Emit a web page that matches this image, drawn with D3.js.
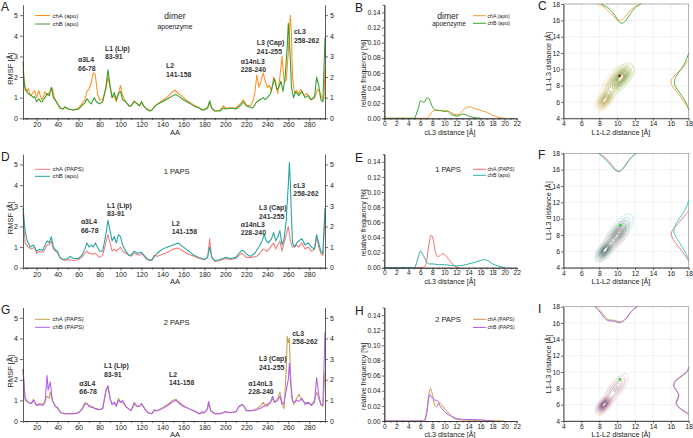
<!DOCTYPE html>
<html>
<head>
<meta charset="utf-8">
<script src="https://cdn.jsdelivr.net/npm/d3@7"></script>
<style>
body { margin: 0; background: #fff; }
svg { font-family: "Liberation Sans", Arial, sans-serif; }
</style>
</head>
<body>
<svg id="fig" width="693" height="438"></svg>
<script>
/* RMSF per residue, [residue, RMSF in A] */
var aChA = [[7,2.3],[9,1.5],[11,1.3],[12,1.45],[14,1.1],[16,1.2],[18,1.35],[20,1.0],[22,1.35],[24,1.0],[25,0.9],[27,1.1],[28,1.3],[30,1.1],[31,1.2],[33,1.3],[35,1.45],[37,1.0],[38,0.9],[40,0.7],[43,0.5],[45,0.45],[47,0.55],[50,0.45],[55,0.4],[60,0.5],[63,0.7],[66,0.9],[68,1.3],[70,1.4],[72,1.7],[74,2.2],[76,2.1],[78,1.2],[80,0.9],[83,0.9],[86,1.4],[88,2.0],[90,1.5],[92,1.0],[94,1.1],[96,0.8],[98,1.2],[100,1.6],[102,1.1],[105,0.8],[108,0.6],[110,0.6],[113,0.85],[116,0.7],[118,0.6],[120,0.8],[122,0.6],[125,0.45],[128,0.38],[130,0.4],[133,0.6],[135,0.7],[140,0.85],[145,1.05],[148,1.2],[150,1.3],[152,1.38],[155,1.2],[158,1.1],[160,1.0],[165,0.8],[170,0.65],[175,0.5],[178,0.42],[180,0.45],[183,0.5],[185,0.75],[187,0.5],[190,0.35],[195,0.4],[198,0.6],[200,0.5],[205,0.5],[210,0.5],[215,0.75],[217,0.9],[220,0.65],[224,0.6],[226,0.8],[228,1.2],[230,2.1],[232,1.5],[234,1.8],[236,2.2],[238,1.8],[240,1.5],[242,1.6],[244,1.3],[246,2.0],[248,1.7],[250,1.2],[252,2.0],[254,3.0],[256,1.8],[258,1.8],[260,3.2],[261,4.2],[262,5.0],[263,4.0],[264,2.0],[266,1.2],[268,1.35],[270,1.2],[272,1.4],[275,1.1],[278,1.2],[281,0.9],[284,1.0],[286,1.1],[288,1.4],[290,1.3],[292,1.0],[294,0.9],[295,2.4]];
var aChB = [[7,2.75],[8,1.8],[9,1.4],[11,1.25],[12,1.2],[15,1.1],[17,1.0],[18,1.05],[20,0.8],[22,0.95],[24,0.8],[25,0.8],[27,0.95],[28,1.0],[30,1.2],[32,1.1],[34,1.5],[36,1.0],[38,0.85],[40,0.7],[42,0.5],[45,0.45],[47,0.55],[50,0.45],[55,0.4],[60,0.45],[63,0.6],[66,0.75],[68,0.95],[70,0.8],[72,0.7],[75,1.0],[77,0.8],[80,0.7],[83,0.8],[86,1.5],[88,2.35],[90,1.6],[92,1.0],[94,1.25],[96,0.9],[98,1.2],[100,1.3],[102,0.9],[105,0.8],[108,0.6],[110,0.6],[113,0.8],[116,0.7],[118,0.6],[120,0.8],[122,0.6],[125,0.45],[128,0.35],[130,0.4],[133,0.6],[136,0.7],[140,0.8],[145,0.95],[150,1.1],[153,1.15],[156,1.05],[160,0.9],[165,0.75],[170,0.6],[175,0.5],[178,0.4],[180,0.4],[183,0.5],[185,0.85],[187,0.5],[190,0.35],[195,0.35],[198,0.5],[200,0.45],[205,0.5],[210,0.45],[215,0.65],[217,0.8],[220,0.6],[223,0.55],[226,0.5],[230,0.8],[233,0.9],[236,1.0],[238,0.9],[240,1.0],[243,1.2],[245,1.6],[247,1.9],[249,1.4],[251,1.5],[253,1.8],[255,1.3],[257,2.0],[259,3.5],[260,4.6],[261,3.8],[262,2.8],[263,1.5],[265,1.0],[267,1.3],[270,1.1],[273,1.3],[276,1.0],[279,1.1],[282,0.9],[285,1.0],[287,2.0],[289,1.6],[291,0.9],[293,0.8],[295,3.9]];
var dChA = [[7,2.6],[9,1.2],[12,1.0],[15,0.9],[18,1.0],[20,0.7],[23,0.8],[26,0.75],[28,0.9],[30,1.1],[32,1.1],[34,1.3],[36,0.9],[38,0.8],[40,0.7],[43,0.45],[47,0.35],[50,0.4],[55,0.35],[60,0.4],[63,0.5],[66,0.7],[68,0.8],[70,0.7],[73,0.65],[76,0.7],[78,0.6],[80,0.5],[83,0.6],[86,1.2],[88,1.6],[90,1.2],[92,0.8],[94,0.9],[96,0.8],[98,0.9],[100,1.0],[102,0.8],[105,0.7],[110,0.55],[113,0.7],[118,0.6],[120,0.7],[125,0.4],[130,0.35],[132,0.6],[135,0.55],[140,0.65],[145,0.75],[150,0.9],[155,0.95],[160,0.8],[165,0.65],[170,0.55],[175,0.45],[180,0.4],[183,0.5],[185,1.4],[187,0.5],[190,0.3],[195,0.35],[200,0.45],[205,0.4],[210,0.45],[213,0.6],[216,0.7],[218,0.6],[220,0.5],[225,0.5],[230,0.55],[233,0.7],[236,0.9],[240,0.8],[243,1.0],[246,1.2],[248,0.9],[250,1.1],[252,1.3],[254,0.8],[256,1.2],[258,1.6],[260,2.0],[262,1.3],[264,1.0],[266,1.0],[268,1.1],[270,1.0],[273,1.2],[276,0.9],[279,1.0],[282,0.8],[285,0.9],[287,1.5],[289,1.0],[291,0.7],[293,0.6],[295,2.6]];
var dChB = [[7,2.9],[9,1.8],[11,1.3],[14,1.0],[17,1.1],[20,0.8],[23,0.9],[26,0.85],[28,1.1],[30,1.3],[32,1.2],[34,1.5],[36,1.0],[38,0.85],[40,0.8],[42,0.5],[45,0.4],[50,0.45],[52,0.55],[55,0.45],[60,0.45],[63,0.6],[66,0.9],[68,1.2],[70,1.0],[72,1.1],[74,1.0],[76,1.2],[78,1.0],[80,0.8],[83,0.8],[86,1.6],[88,2.3],[90,1.8],[92,1.3],[94,1.5],[96,1.2],[98,1.6],[100,1.5],[102,1.1],[105,0.8],[108,0.6],[110,0.6],[113,0.8],[116,0.7],[120,0.75],[125,0.45],[128,0.35],[130,0.4],[135,0.7],[140,0.9],[145,1.0],[150,1.1],[155,1.2],[160,1.0],[165,0.8],[170,0.6],[175,0.5],[180,0.4],[183,0.5],[185,1.0],[187,0.5],[190,0.35],[195,0.4],[200,0.5],[205,0.45],[210,0.5],[213,0.7],[216,0.85],[218,0.8],[220,0.65],[224,0.55],[228,0.7],[232,1.0],[235,1.3],[237,1.6],[239,1.3],[241,1.2],[244,1.4],[246,1.7],[248,1.3],[250,1.5],[252,1.8],[254,1.1],[256,1.4],[258,2.3],[260,4.0],[261,5.1],[262,4.0],[263,2.5],[264,1.2],[266,1.0],[268,1.2],[270,1.3],[273,1.4],[276,1.1],[279,1.2],[282,1.0],[285,0.9],[287,1.6],[289,1.2],[291,0.8],[293,0.7],[295,2.9]];
var gChA = [[7,2.5],[9,1.0],[12,0.9],[15,0.85],[17,1.05],[20,0.75],[23,0.85],[26,0.8],[28,1.0],[30,1.2],[32,1.1],[33,1.4],[35,1.0],[38,0.7],[40,0.6],[43,0.4],[47,0.35],[50,0.35],[55,0.35],[60,0.4],[63,0.55],[66,0.9],[68,0.85],[70,0.75],[73,0.7],[76,0.6],[80,0.55],[83,0.6],[86,1.5],[88,1.7],[90,1.1],[92,0.8],[94,0.9],[96,0.8],[98,1.1],[100,0.9],[102,0.9],[105,0.7],[110,0.5],[113,0.8],[116,0.7],[120,0.8],[123,0.6],[126,0.4],[130,0.35],[132,0.5],[135,0.5],[140,0.65],[145,0.8],[150,1.0],[153,1.05],[156,0.9],[160,0.75],[165,0.6],[170,0.5],[175,0.35],[180,0.4],[183,0.6],[184,0.9],[186,0.5],[190,0.35],[195,0.35],[200,0.45],[205,0.4],[210,0.45],[213,0.7],[216,0.8],[218,0.7],[220,0.5],[225,0.5],[230,0.6],[233,0.7],[236,0.9],[238,0.8],[240,0.7],[243,0.9],[245,1.1],[247,0.9],[250,1.1],[252,1.4],[254,0.9],[256,0.6],[258,2.5],[259,4.1],[260,3.8],[261,4.0],[262,2.5],[263,1.2],[265,0.8],[268,1.1],[270,1.3],[273,1.0],[276,0.9],[279,0.9],[282,0.8],[285,1.0],[287,1.4],[289,1.1],[291,0.8],[293,0.7],[295,2.4]];
var gChB = [[7,2.5],[9,1.1],[12,0.9],[15,0.85],[17,1.0],[20,0.75],[23,0.8],[26,0.75],[28,0.9],[30,2.2],[31,1.5],[33,1.9],[35,1.0],[38,0.7],[40,0.65],[43,0.4],[47,0.35],[50,0.35],[55,0.35],[60,0.4],[63,0.55],[66,0.8],[68,0.85],[70,0.7],[73,0.65],[76,0.6],[80,0.55],[83,0.6],[86,1.4],[88,1.7],[90,1.1],[92,0.8],[94,0.9],[96,0.7],[98,1.0],[100,0.9],[102,1.0],[105,0.7],[110,0.5],[113,0.9],[116,0.7],[118,0.7],[120,0.85],[123,0.6],[126,0.4],[130,0.35],[132,0.55],[135,0.5],[140,0.6],[145,0.75],[150,0.95],[153,1.0],[156,0.85],[160,0.7],[165,0.6],[170,0.5],[175,0.35],[178,0.45],[180,0.4],[183,0.6],[184,0.95],[186,0.5],[190,0.35],[195,0.35],[200,0.45],[205,0.4],[210,0.45],[213,0.7],[216,0.8],[218,0.7],[220,0.5],[225,0.5],[230,0.55],[233,0.6],[236,0.7],[240,0.8],[243,0.9],[245,1.2],[247,0.9],[250,1.0],[252,1.2],[254,0.8],[256,0.9],[258,1.5],[260,2.0],[261,2.8],[262,2.0],[264,1.0],[266,0.9],[268,1.0],[270,0.95],[273,1.1],[276,0.8],[279,0.9],[282,0.75],[285,0.9],[287,2.1],[289,1.3],[291,0.8],[293,0.8],[295,4.3]];

/* cL3 distance distributions, [distance A, relative frequency] */
var bChA = [[0,0],[7,0],[7.5,0.003],[8,0.009],[8.5,0.0105],[9,0.0102],[10,0.01],[10.5,0.0095],[11,0.008],[11.5,0.006],[12,0.0045],[12.5,0.006],[13,0.01],[13.5,0.0135],[14,0.0152],[14.5,0.0145],[15,0.013],[16,0.0105],[17,0.008],[18,0.004],[19,0.0012],[20,0]];
var bChB = [[0,0],[5,0],[5.3,0.005],[5.7,0.015],[6,0.023],[6.3,0.022],[6.6,0.021],[7,0.026],[7.3,0.027],[7.6,0.023],[8,0.015],[8.5,0.011],[9,0.0105],[9.5,0.01],[10,0.009],[10.5,0.0095],[11,0.006],[11.5,0.004],[12,0.003],[12.5,0.004],[13,0.0055],[13.5,0.005],[14,0.003],[15,0.001],[16,0]];
var eChA = [[0,0],[6.5,0],[7,0.008],[7.4,0.03],[7.8,0.043],[8.1,0.038],[8.4,0.025],[8.8,0.015],[9.2,0.0155],[9.7,0.0185],[10.2,0.016],[10.7,0.011],[11.2,0.006],[11.7,0.002],[12.5,0]];
var eChB = [[0,0],[5,0],[5.5,0.01],[6,0.022],[6.5,0.016],[7,0.008],[7.5,0.005],[8,0.005],[9,0.004],[10,0.004],[11,0.003],[12,0.0025],[13,0.003],[14,0.005],[15,0.007],[16,0.0095],[16.5,0.0105],[17,0.01],[18,0.005],[19,0.002],[20,0]];
var hChA = [[0,0],[6.5,0],[7,0.01],[7.4,0.035],[7.7,0.043],[8,0.035],[8.4,0.02],[8.7,0.019],[9.1,0.024],[9.5,0.022],[10,0.016],[10.5,0.012],[11,0.008],[11.5,0.004],[12,0.002],[14,0.001],[16,0.001],[18,0.0005],[20,0]];
var hChB = [[0,0],[6.7,0],[7,0.008],[7.4,0.03],[7.6,0.035],[7.9,0.031],[8.3,0.028],[8.8,0.027],[9.2,0.021],[9.7,0.015],[10.2,0.011],[10.7,0.008],[11.2,0.006],[11.8,0.004],[12.5,0.0025],[14,0.002],[16,0.0015],[17,0.0005],[18,0]];

/* 2D L1-L2 / L1-L3 density: blobs [cx, cy, sx, sy, rho, weight] */
var cBlobA = [[8.6,6.2,0.45,0.55,0.5,0.3],[9.6,8.3,0.65,0.9,0.6,0.45],[10.7,9.3,0.6,0.6,0.4,0.25]];
var cBlobB = [[8.8,6.6,0.45,0.7,0.6,0.25],[10.4,8.9,0.6,0.8,0.6,0.75]];
var fBlobA = [[8.7,6.2,0.45,0.6,0.6,0.4],[10.0,7.9,0.6,0.8,0.65,0.6]];
var fBlobB = [[8.6,6.1,0.45,0.6,0.6,0.35],[10.2,8.4,0.7,0.95,0.7,0.65]];
var iBlobA = [[8.6,6.0,0.4,0.55,0.6,0.5],[9.9,8.0,0.7,0.95,0.75,0.5]];
var iBlobB = [[8.5,6.0,0.4,0.5,0.6,0.55],[9.8,7.9,0.6,0.85,0.75,0.45]];
/* marginals: top [L1-L2, curve y], right [L1-L3, curve x] */
var cTopA = [[7.8,18],[8.5,17.7],[9,17.2],[9.5,16.6],[10,16.0],[10.4,15.95],[10.8,16.3],[11.3,17.0],[11.8,17.6],[12.5,18]];
var cTopB = [[8.2,18],[9,17.6],[9.5,17.0],[10,16.2],[10.4,15.45],[11,15.9],[11.5,16.9],[12,17.6],[12.7,18]];
var cRightA = [[5.3,18],[5.8,17.6],[6.5,17.2],[7.3,16.6],[8,16.1],[8.6,15.95],[9.2,16.3],[9.8,17.0],[10.5,17.6],[11.2,18]];
var cRightB = [[5.0,18],[6,17.7],[7,17.1],[7.8,16.5],[8.5,16.35],[9.3,16.6],[10,17.2],[11,17.7],[12,18]];
var fTopA = [[8,18],[8.8,17.4],[9.4,16.6],[9.9,15.9],[10.2,15.75],[10.6,16.0],[11.1,16.8],[11.6,17.6],[12.2,18]];
var fTopB = [[7.9,18],[8.7,17.3],[9.3,16.5],[9.8,15.9],[10.1,15.7],[10.5,15.9],[11,16.7],[11.5,17.5],[12.1,18]];
var fRightA = [[4.8,18],[5.5,17.6],[6.5,16.9],[7.5,16.2],[8.1,16.0],[8.7,16.2],[9.5,16.9],[10.3,17.5],[11,18]];
var fRightB = [[5,18],[6,17.6],[7,17.0],[8,16.4],[8.7,16.3],[9.5,16.6],[10.5,17.3],[11.5,17.8],[12.3,18]];
var iTopA = [[7.6,18],[8.2,17.5],[8.7,16.6],[9.2,16.3],[9.7,16.4],[10.2,16.1],[10.7,16.2],[11.2,16.8],[11.7,17.6],[12.3,18]];
var iTopB = [[7.5,18],[8.1,17.4],[8.6,16.5],[9.1,16.2],[9.6,16.3],[10.1,16.0],[10.6,16.1],[11.1,16.7],[11.6,17.5],[12.2,18]];
var iRightA = [[4.8,18],[5.3,17.3],[5.8,16.7],[6.3,16.6],[7,17.0],[7.5,16.8],[8,16.4],[8.5,16.3],[9,16.6],[9.5,17.3],[10,17.9],[10.5,18]];
var iRightB = [[4.9,18],[5.4,17.2],[5.9,16.6],[6.4,16.55],[7.1,16.95],[7.6,16.75],[8.1,16.35],[8.6,16.25],[9.1,16.6],[9.6,17.3],[10.1,17.9],[10.6,18]];
var refPoint = [[10.27,9.2],[10.35,9.2],[10.3,9.1]];

var rmsfTicks = [20,40,60,80,100,120,140,160,180,200,220,240,260,280];
var regionNames = [['\u03b13L4','66-78'],['L1 (Lip)','83-91'],['L2','141-158'],['\u03b114nL3','228-240'],['L3 (Cap)','241-255'],['cL3','258-262']];

/* layout */
var svg = d3.select('#fig');
var rowBot = [118.3, 267.7, 421];
var panelH = 113.5;
var ink = '#222';

var styleAxis = function(g, fs) {
  g.selectAll('text').attr('font-size', fs || 7).attr('fill', ink);
  g.selectAll('line').attr('stroke', '#333').attr('stroke-width', 0.7);
  g.select('.domain').attr('stroke', '#333').attr('stroke-width', 0.8);
}

var rmsfPanels = [
  {row:0, letter:'A', A:aChA, B:aChB, cA:'#ff8f1f', cB:'#2f9e2a', lA:'chA (apo)', lB:'chB (apo)',
   title:['dimer','apoenzyme'], legY:[15.5,24],
   labels:[[59.5,2.83],[85.2,3.41],[143.4,2.54],[214.6,2.78],[229.9,3.66],[265.4,4.19]]},
  {row:1, letter:'D', A:dChA, B:dChB, cA:'#f77b7b', cB:'#1fa3a0', lA:'chA (PAPS)', lB:'chB (apo)',
   title:['1 PAPS'], legY:[169.3,176.3],
   labels:[[62.2,2.23],[87.1,3.04],[148.8,2.16],[214.6,2.12],[232.1,2.9],[264.8,4.01]]},
  {row:2, letter:'G', A:gChA, B:gChB, cA:'#c9a050', cB:'#b35cf2', lA:'chA (PAPS)', lB:'chB (PAPS)',
   title:['2 PAPS'], legY:[319.3,327.3],
   labels:[[60.7,1.83],[84.2,2.68],[146.2,2.28],[221.9,1.83],[232.1,3.01],[263.8,4.26]]}
];

rmsfPanels.forEach(function(p) {
  var yb = rowBot[p.row];
  var x = d3.scaleLinear().domain([7, 295]).range([23, 325]);
  var y = d3.scaleLinear().domain([0, 5.5]).range([yb, yb - panelH]);
  var g = svg.append('g');

  var line = d3.line().x(function(d){ return x(d[0]); }).y(function(d){ return y(d[1]); });
  [[p.A, p.cA], [p.B, p.cB]].forEach(function(s) {
    g.append('path').datum(s[0]).attr('d', line)
      .attr('fill', 'none').attr('stroke', s[1]).attr('stroke-width', 1.05).attr('stroke-linejoin', 'round');
  });

  var minor = d3.range(10, 295, 20);
  g.append('g').attr('transform', 'translate(0,' + yb + ')')
    .call(d3.axisBottom(x).tickValues(minor).tickSize(1.8).tickFormat('')).call(styleAxis);
  g.append('g').attr('transform', 'translate(0,' + yb + ')')
    .call(d3.axisBottom(x).tickValues(rmsfTicks).tickSize(3).tickPadding(1.2).tickSizeOuter(0)).call(styleAxis);
  g.append('g').attr('transform', 'translate(23,0)')
    .call(d3.axisLeft(y).tickValues([0,1,2,3,4,5]).tickFormat(d3.format('d')).tickSize(3).tickPadding(2).tickSizeOuter(0)).call(styleAxis);
  g.append('g').attr('transform', 'translate(325,0)')
    .call(d3.axisRight(y).tickValues([0,1,2,3,4,5]).tickFormat(d3.format('d')).tickSize(3).tickPadding(2).tickSizeOuter(0)).call(styleAxis);

  g.append('text').attr('x', 175).attr('y', yb + 16.2).attr('text-anchor', 'middle')
    .attr('font-size', 7.5).attr('fill', ink).text('AA');
  g.append('text').attr('transform', 'translate(13,' + (yb - panelH / 2 + 7) + ') rotate(-90)')
    .attr('text-anchor', 'middle').attr('font-size', 7.5).attr('fill', ink).text('RMSF [\u00c5]');
  g.append('text').attr('x', 1).attr('y', yb - panelH + 6.5).attr('font-size', 12).attr('fill', ink).text(p.letter);

  // legend
  [[p.lA, p.cA], [p.lB, p.cB]].forEach(function(s, i) {
    g.append('line').attr('x1', 35).attr('x2', 50).attr('y1', p.legY[i]).attr('y2', p.legY[i])
      .attr('stroke', s[1]).attr('stroke-width', 1);
    g.append('text').attr('x', 52.5).attr('y', p.legY[i] + 2).attr('font-size', 6).attr('fill', ink).text(s[0]);
  });

  // panel title
  if (p.title.length == 2) {
    g.append('text').attr('x', 175).attr('y', yb - panelH + 14.5).attr('text-anchor', 'middle')
      .attr('font-size', 8.5).attr('fill', ink).text(p.title[0]);
    g.append('text').attr('x', 175).attr('y', yb - panelH + 24.2).attr('text-anchor', 'middle')
      .attr('font-size', 6.8).attr('fill', ink).text(p.title[1]);
  } else {
    g.append('text').attr('x', 176.7).attr('y', p.legY[1] - 2.3).attr('text-anchor', 'middle')
      .attr('font-size', 7.5).attr('fill', ink).text(p.title[0]);
  }

  // region labels
  p.labels.forEach(function(l, i) {
    var t = g.append('text').attr('font-size', 6.9).attr('font-weight', 'bold').attr('fill', '#333');
    t.append('tspan').attr('x', x(l[0])).attr('y', y(l[1]) + 2.6).text(regionNames[i][0]);
    t.append('tspan').attr('x', x(l[0])).attr('y', y(l[1]) + 11.2).text(regionNames[i][1]);
  });
});

/* distance distributions */
var distPanels = [
  {row:0, letter:'B', A:bChA, B:bChB, cA:'#ff9933', cB:'#34a82e', lA:'chA (apo)', lB:'chB (apo)', title:['dimer','apoenzyme'], legY:[15.7,23.3]},
  {row:1, letter:'E', A:eChA, B:eChB, cA:'#f56868', cB:'#2bb0aa', lA:'chA (PAPS)', lB:'chB (apo)', title:['1 PAPS'], legY:[169.3,175.3]},
  {row:2, letter:'H', A:hChA, B:hChB, cA:'#c49a48', cB:'#b45cf0', lA:'chA (PAPS)', lB:'chB (PAPS)', title:['2 PAPS'], legY:[319.3,327.5]}
];

distPanels.forEach(function(p) {
  var yb = rowBot[p.row];
  var x = d3.scaleLinear().domain([0, 22]).range([384.3, 516.7]);
  var y = d3.scaleLinear().domain([0, 0.15]).range([yb, yb - panelH]);
  var g = svg.append('g');
  var line = d3.line().curve(d3.curveMonotoneX).x(function(d){ return x(d[0]); }).y(function(d){ return y(d[1]); });
  [[p.A, p.cA], [p.B, p.cB]].forEach(function(s) {
    g.append('path').datum(s[0]).attr('d', line).attr('fill', 'none').attr('stroke', s[1]).attr('stroke-width', 1);
  });

  g.append('g').attr('transform', 'translate(0,' + yb + ')')
    .call(d3.axisBottom(x).tickValues(d3.range(1, 22, 2)).tickSize(1.6).tickFormat('')).call(styleAxis);
  g.append('g').attr('transform', 'translate(0,' + yb + ')')
    .call(d3.axisBottom(x).tickValues(d3.range(0, 23, 2)).tickSize(2.5).tickPadding(0.6).tickSizeOuter(0)).call(styleAxis, 6.6);
  g.append('g').attr('transform', 'translate(384.3,0)')
    .call(d3.axisLeft(y).tickValues(d3.range(0.01, 0.15, 0.02)).tickSize(1.6).tickFormat('')).call(styleAxis);
  g.append('g').attr('transform', 'translate(384.3,0)')
    .call(d3.axisLeft(y).tickValues(d3.range(0, 0.141, 0.02)).tickFormat(d3.format('.2f')).tickSize(2.5).tickPadding(1.2).tickSizeOuter(0)).call(styleAxis, 6.8);

  g.append('text').attr('x', 450).attr('y', yb + 16.3).attr('text-anchor', 'middle')
    .attr('font-size', 7.2).attr('fill', ink).text('cL3 distance [\u00c5]');
  g.append('text').attr('transform', 'translate(365.5,' + (yb - panelH / 2 + 12) + ') rotate(-90)')
    .attr('text-anchor', 'middle').attr('font-size', 7).attr('fill', ink).text('relative frequency [%]');
  g.append('text').attr('x', 355).attr('y', yb - panelH + 7.5).attr('font-size', 12).attr('fill', ink).text(p.letter);

  [[p.lA, p.cA], [p.lB, p.cB]].forEach(function(s, i) {
    g.append('line').attr('x1', 473).attr('x2', 486).attr('y1', p.legY[i]).attr('y2', p.legY[i])
      .attr('stroke', s[1]).attr('stroke-width', 1);
    g.append('text').attr('x', 487.5).attr('y', p.legY[i] + 1.8).attr('font-size', 5.2).attr('fill', ink).text(s[0]);
  });
  if (p.title.length == 2) {
    g.append('text').attr('x', 448).attr('y', p.legY[0] + 3).attr('text-anchor', 'middle')
      .attr('font-size', 8.5).attr('fill', ink).text(p.title[0]);
    g.append('text').attr('x', 449).attr('y', p.legY[1] + 2.5).attr('text-anchor', 'middle')
      .attr('font-size', 6.5).attr('fill', ink).text(p.title[1]);
  } else {
    g.append('text').attr('x', 448).attr('y', p.legY[0] + 3).attr('text-anchor', 'middle')
      .attr('font-size', 7.5).attr('fill', ink).text(p.title[0]);
  }
});

/* 2D contour maps with marginals */
var gauss = function(blobs, px, py) {
  var v = 0;
  blobs.forEach(function(b) {
    var dx = (px - b[0]) / b[2], dy = (py - b[1]) / b[3], r = b[4];
    var z = (dx * dx - 2 * r * dx * dy + dy * dy) / (1 - r * r);
    v += b[5] / (2 * Math.PI * b[2] * b[3] * Math.sqrt(1 - r * r)) * Math.exp(-z / 2);
  });
  return v;
}

var mapPanels = [
  {row:0, letter:'C', A:cBlobA, B:cBlobB, tA:cTopA, tB:cTopB, rA:cRightA, rB:cRightB,
   colA:['#fcd6ad','#df8a3a'], colB:['#b4e2a4','#5a8f2c'], mA:'#f7a04a', mB:'#3daa32', dot:'#8b1010'},
  {row:1, letter:'F', A:fBlobA, B:fBlobB, tA:fTopA, tB:fTopB, rA:fRightA, rB:fRightB,
   colA:['#f8b8b8','#a25a5a'], colB:['#a6e2e2','#4d7c7c'], mA:'#f26a6a', mB:'#2cc5c5', dot:'#22dd22'},
  {row:2, letter:'I', A:iBlobA, B:iBlobB, tA:iTopA, tB:iTopB, rA:iRightA, rB:iRightB,
   colA:['#eed6a4','#9a7440'], colB:['#dfbcf2','#7a4a8a'], mA:'#c9a050', mB:'#a95ae8', dot:'#22dd22'}
];

var step = 0.1, n = 141;

mapPanels.forEach(function(p, pi) {
  var yb = rowBot[p.row];
  var x = d3.scaleLinear().domain([4, 18]).range([563.5, 688.7]);
  var y = d3.scaleLinear().domain([4, 18]).range([yb, yb - 114.3]);
  var g = svg.append('g');
  var ticks = d3.range(4, 19, 2);

  ticks.forEach(function(t) {
    g.append('line').attr('x1', x(t)).attr('x2', x(t)).attr('y1', y(4)).attr('y2', y(18))
      .attr('stroke', '#d4d4d4').attr('stroke-width', 0.6).attr('stroke-dasharray', '1.2,1.2');
    g.append('line').attr('y1', y(t)).attr('y2', y(t)).attr('x1', x(4)).attr('x2', x(18))
      .attr('stroke', '#d4d4d4').attr('stroke-width', 0.6).attr('stroke-dasharray', '1.2,1.2');
  });
  g.append('rect').attr('x', x(4)).attr('y', y(18)).attr('width', x(18) - x(4)).attr('height', y(4) - y(18))
    .attr('fill', 'none').attr('stroke', '#999').attr('stroke-width', 0.7);

  var proj = d3.geoTransform({ point: function(px, py) {
    this.stream.point(x(4 + (px - 0.5) * step), y(4 + (py - 0.5) * step));
  }});
  var path = d3.geoPath(proj);

  [[p.A, p.colA], [p.B, p.colB]].forEach(function(s) {
    var vals = new Array(n * n);
    for (var j = 0; j < n; j++) for (var i = 0; i < n; i++) vals[j * n + i] = gauss(s[0], 4 + i * step, 4 + j * step);
    var mx = d3.max(vals);
    var levels = d3.range(0, 9).map(function(k){ return mx * (0.06 + k * 0.1); });
    var col = d3.interpolateRgb(s[1][0], s[1][1]);
    var cs = d3.contours().size([n, n]).thresholds(levels)(vals);
    g.selectAll(null).data(cs).enter().append('path')
      .attr('d', path).attr('fill', 'none')
      .attr('stroke', function(d, i){ return col(i / 8); }).attr('stroke-width', 0.65);
  });

  var topLine = d3.line().curve(d3.curveBasis).x(function(d){ return x(d[0]); }).y(function(d){ return y(d[1]); });
  var rightLine = d3.line().curve(d3.curveBasis).x(function(d){ return x(d[1]); }).y(function(d){ return y(d[0]); });
  [[p.tA, p.mA], [p.tB, p.mB]].forEach(function(s) {
    g.append('path').datum(s[0]).attr('d', topLine).attr('fill', 'none').attr('stroke', s[1]).attr('stroke-width', 0.9);
  });
  [[p.rA, p.mA], [p.rB, p.mB]].forEach(function(s) {
    g.append('path').datum(s[0]).attr('d', rightLine).attr('fill', 'none').attr('stroke', s[1]).attr('stroke-width', 0.9);
  });

  g.append('circle').attr('cx', x(refPoint[pi][0])).attr('cy', y(refPoint[pi][1])).attr('r', 1.3).attr('fill', p.dot);

  g.append('g').attr('transform', 'translate(0,' + yb + ')')
    .call(d3.axisBottom(x).tickValues(ticks).tickSize(2.5).tickPadding(0.8).tickSizeOuter(0)).call(styleAxis, 6.8);
  g.append('g').attr('transform', 'translate(563.5,0)')
    .call(d3.axisLeft(y).tickValues(ticks).tickSize(2.5).tickPadding(1).tickSizeOuter(0)).call(styleAxis, 6.8);

  g.append('text').attr('x', 621).attr('y', yb + 16.3).attr('text-anchor', 'middle')
    .attr('font-size', 7.3).attr('fill', ink).text('L1-L2 distance [\u00c5]');
  g.append('text').attr('transform', 'translate(550.5,' + (yb - 57) + ') rotate(-90)')
    .attr('text-anchor', 'middle').attr('font-size', 7.3).attr('fill', ink).text('L1-L3 distance [\u00c5]');
  g.append('text').attr('x', 538).attr('y', yb - 108.5).attr('font-size', 12).attr('fill', ink).text(p.letter);
});
</script>
</body>
</html>
